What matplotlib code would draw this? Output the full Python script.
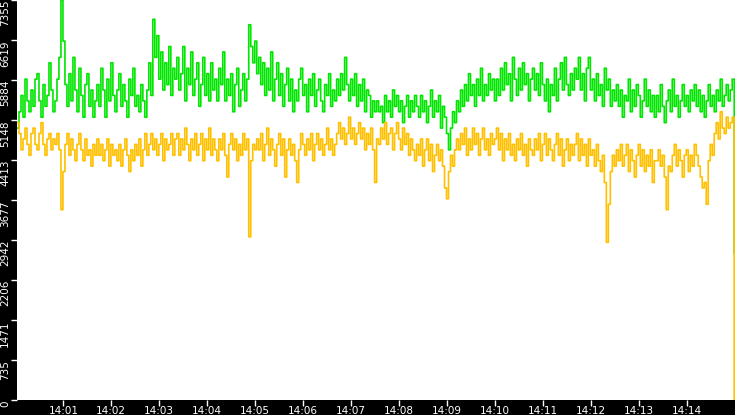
import matplotlib
matplotlib.use("Agg")
import matplotlib.pyplot as plt
import datetime as dt

green = [
5000,5300,5600,5200,5900,5500,5300,5700,5400,5900,6000,5500,5200,5800,5400,5600,6200,5700,5300,5500,
5900,6300,7355,6600,5800,5400,6000,5500,6300,5700,5300,6100,5600,5200,5800,6000,5400,5700,5200,5500,
5800,5400,6100,5700,5200,5900,5500,6200,5600,5300,5700,6000,5400,5800,5500,5200,5900,5600,6100,5400,
5600,5300,5800,5500,5200,5700,6200,5600,7000,6300,6700,5900,6400,5700,6200,5800,6500,5600,6100,5900,
6300,5700,6000,6500,5500,6100,5800,6400,5600,5900,6200,5400,5800,6300,5600,6000,5500,6200,5700,5900,
5500,6100,5800,6400,5500,5900,5600,6000,5300,5800,6100,5400,5700,6000,5500,5900,6900,6500,6200,6600,
6000,6300,5800,6200,5600,6100,5700,6400,5500,5900,6200,5600,6000,5400,5800,6100,5500,5900,5300,5700,
5500,5900,6100,5600,5800,5300,5900,5600,6000,5400,5700,5900,5500,5300,5800,5600,6000,5400,5700,5500,
5900,5600,6000,5700,6300,5800,5500,5900,5600,6000,5400,5800,5500,5900,5300,5700,5600,5200,5500,5300,
5500,5300,5400,5100,5600,5300,5500,5200,5700,5400,5600,5300,5500,5100,5400,5600,5200,5500,5300,5600,
5400,5200,5600,5300,5500,5100,5400,5700,5200,5500,5300,5600,5000,5400,5200,4900,4600,5000,5300,5100,
5500,5300,5700,5400,5800,5500,6000,5600,5800,5400,5900,5600,6100,5500,5800,5600,6000,5700,5900,5500,
5900,5600,6100,5700,6200,5800,6000,5500,6300,5900,5600,6100,5700,6200,5800,6000,5500,5900,6100,5700,
6000,5600,6200,5800,5500,5900,5300,5800,5600,6100,5500,5900,6200,5700,6300,5800,5600,6000,5700,6100,
5900,6300,5700,6000,5500,6100,6300,5700,5900,5500,6000,5600,5800,5400,6100,5700,5900,5400,5700,5500,
5800,5400,5700,5200,5600,5500,5900,5300,5700,5400,5800,5600,5200,5500,5900,5400,5700,5300,5600,5200,
5600,5300,5800,5400,5100,5500,5700,5300,5900,5400,5600,5200,5500,5800,5400,5600,5300,5700,5500,5800,
5400,5700,5300,5600,5200,5500,5800,5400,5600,5300,5700,5500,5900,5400,5600,5800,5500,5700,5900,2700]

orange = [
5100,4900,4600,4800,5000,4700,4500,4900,5000,4700,4600,4900,5100,4700,4500,4800,4900,4600,4800,4700,
4900,4600,3500,4200,4700,4900,4500,4800,4600,4400,4700,4900,4600,4400,4800,4500,4600,4300,4700,4500,
4800,4500,4700,4400,4600,4800,4300,4700,4500,4600,4400,4700,4300,4600,4800,4500,4200,4600,4400,4700,
4500,4800,4300,4600,4900,4500,4700,4900,4600,4800,4500,4700,4900,4400,4800,4600,4700,4900,4500,4800,
4900,4500,4800,4600,5000,4700,4400,4800,4600,4900,4500,4700,4900,4400,4800,4600,5000,4500,4800,4600,
4400,4800,4600,4900,4500,4100,4700,4900,4600,4800,4400,4700,4500,4900,4600,4800,3000,4400,4700,4600,
4800,4600,4900,4400,4700,5000,4500,4800,4600,4300,4700,4900,4500,4800,4100,4600,4800,4500,4700,4400,
4000,4600,4900,4700,4500,4800,4600,4900,4400,4700,4900,4600,4800,4500,4700,5000,4600,4800,4500,4700,
4900,5100,4800,5000,4700,4900,5200,4800,5000,4700,4900,5100,4800,5000,4600,4900,4700,5000,4600,4000,
4800,4700,5000,4800,5100,4700,4900,5000,4600,4900,5100,4800,4600,5000,4700,4900,4500,4800,4600,4400,
4700,4500,4800,4300,4600,4800,4400,4700,4200,4500,4700,4400,4600,4300,3900,3700,4200,4500,4300,4600,
4800,4600,4900,4700,5000,4500,4800,4600,5000,4700,4900,4500,4800,5000,4600,4800,4500,4900,4700,4800,
5000,4600,4900,4400,4800,4600,4900,4500,4700,4400,4800,4600,4900,4500,4700,4300,4800,4600,4500,4800,
4600,4900,4400,4700,4900,4500,4800,4600,4400,4700,4900,4500,4800,4300,4600,4800,4400,4700,4500,4700,
4900,4400,4800,4500,4700,4300,4800,4500,4600,4300,4700,4400,4200,4500,4000,2900,3600,4200,4500,4300,
4600,4400,4700,4300,4500,4700,4200,4600,4400,4100,4500,4700,4300,4600,4200,4500,4300,4600,4000,4400,
4400,4600,4300,4500,4100,3500,4300,4200,4500,4700,4300,4600,4400,4100,4500,4600,4200,4500,4300,4700,
4500,4300,4100,3900,4000,3600,4400,4700,4500,4900,5100,4800,5300,5000,4900,5200,5000,5100,5200,0]

y_ticks = [0, 735, 1471, 2206, 2942, 3677, 4413, 5148, 5884, 6619, 7355]
x_labels = ["14:01","14:02","14:03","14:04","14:05","14:06","14:07",
            "14:08","14:09","14:10","14:11","14:12","14:13","14:14"]

start = dt.datetime(2024,1,1,14,0,2)
times = [start + dt.timedelta(seconds=2.5*i) for i in range(len(green))]
end = times[-1] + dt.timedelta(seconds=1)

fig = plt.figure(figsize=(7.35,4.15), dpi=100, facecolor="black")
ax = fig.add_axes([17/735, 15/415, 718/735, 400/415])
ax.set_facecolor("white")
ax.plot(times, green, drawstyle="steps-post", color="#00e600", lw=1.2, snap=False)
ax.plot(times, orange, drawstyle="steps-post", color="#ffc000", lw=1.2, snap=False)
ax.set_xlim(start, end)
ax.set_ylim(0, 7355)
for s in ax.spines.values():
    s.set_visible(False)
xt = [dt.datetime(2024,1,1,14,m) for m in range(1,15)]
ax.set_xticks(xt)
ax.set_xticklabels(x_labels)
ax.set_yticks(y_ticks)
ax.set_yticklabels([str(v) for v in y_ticks], rotation=90, va="top")
ax.tick_params(colors="white", labelsize=7.5, length=4, width=1, pad=1)
ax.tick_params(axis="x", pad=0)
fig.savefig("out.png", dpi=100, facecolor="black")
